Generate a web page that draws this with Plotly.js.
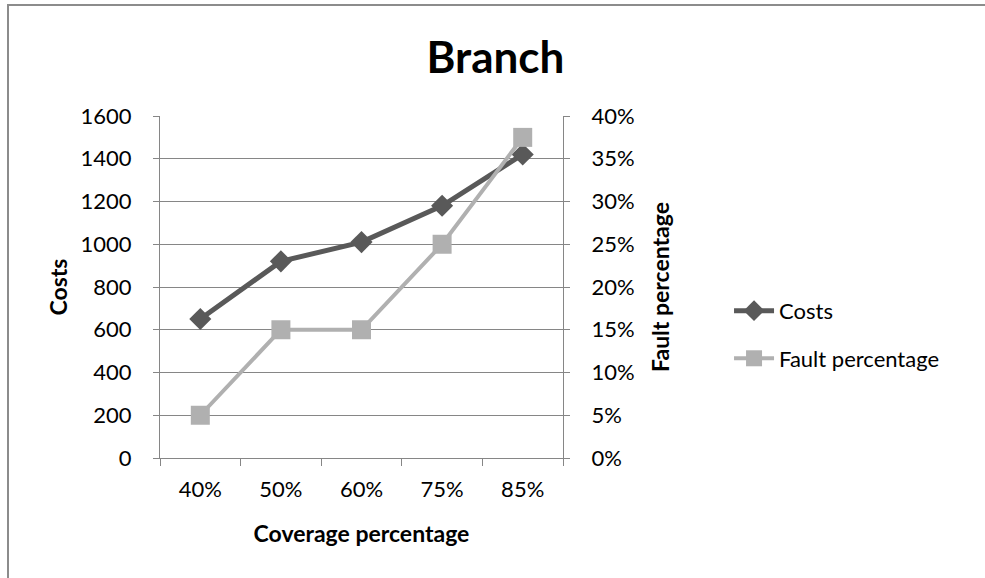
<!DOCTYPE html>
<html>
<head>
<meta charset="utf-8">
<script src="https://cdn.plot.ly/plotly-3.0.1.min.js"></script>
<style>
  html, body { margin: 0; padding: 0; background: #fff; }
  #wrap { position: relative; width: 985px; height: 578px; overflow: hidden; }
  #chart { position: absolute; left: 0; top: 0; width: 985px; height: 578px; }
  /* chart-area frame: only the top and left edges are visible */
  #frame { position: absolute; left: 7px; top: 4px; width: 990px; height: 590px;
           border-top: 2px solid #8c8c8c; border-left: 2px solid #8c8c8c;
           pointer-events: none; }
</style>
</head>
<body>
<div id="wrap">
  <div id="chart"></div>
  <div id="frame"></div>
</div>
<script>
// Coverage levels on the category axis
const coverage = ['40%', '50%', '60%', '75%', '85%'];
// Cost per coverage level (left axis)
const costs = [650, 920, 1010, 1180, 1420];
// Share of faults found (right axis)
const faultPct = [0.05, 0.15, 0.15, 0.25, 0.375];

const FONT = 'Lato, "Open Sans", sans-serif';
const AXIS_GRAY = '#868686';

const traces = [
  {
    name: 'Costs',
    x: coverage,
    y: costs,
    yaxis: 'y',
    type: 'scatter',
    mode: 'lines+markers',
    line: { color: '#595959', width: 5 },
    marker: { symbol: 'diamond', size: 17, color: '#595959' },
    legendgroup: 'a'
  },
  {
    name: 'Fault percentage',
    x: coverage,
    y: faultPct,
    yaxis: 'y2',
    type: 'scatter',
    mode: 'lines+markers',
    line: { color: '#b0b0b0', width: 4 },
    marker: { symbol: 'square', size: 19, color: '#b0b0b0' },
    legendgroup: 'b'
  }
];

const layout = {
  width: 985,
  height: 578,
  margin: { l: 160, r: 422, t: 116, b: 120 },
  paper_bgcolor: '#ffffff',
  plot_bgcolor: '#ffffff',
  font: { family: FONT, size: 22, color: '#000000' },
  title: {
    text: '<b>Branch</b>',
    font: { family: FONT, size: 44, color: '#000000' },
    x: 0.503,
    xanchor: 'center',
    y: 0.9,
    yanchor: 'middle'
  },
  xaxis: {
    type: 'category',
    range: [-0.5, 4.5],
    showgrid: false,
    showline: true,
    linecolor: AXIS_GRAY,
    linewidth: 1,
    ticks: 'outside',
    tickson: 'boundaries',
    ticklen: 7,
    tickcolor: AXIS_GRAY,
    tickfont: { family: FONT, size: 22 },
    ticklabelstandoff: 12,
    title: {
      text: '<b>Coverage percentage</b>',
      font: { family: FONT, size: 23 },
      standoff: 24
    },
    zeroline: false,
    fixedrange: true
  },
  yaxis: {
    range: [0, 1600],
    dtick: 200,
    showgrid: true,
    gridcolor: AXIS_GRAY,
    gridwidth: 1,
    showline: true,
    linecolor: AXIS_GRAY,
    linewidth: 1,
    ticks: 'outside',
    ticklen: 6,
    tickcolor: AXIS_GRAY,
    tickfont: { family: FONT, size: 22 },
    ticklabelstandoff: 17,
    title: {
      text: '<b>Costs</b>',
      font: { family: FONT, size: 23 },
      standoff: 6
    },
    zeroline: false,
    fixedrange: true
  },
  yaxis2: {
    overlaying: 'y',
    side: 'right',
    range: [0, 0.4],
    dtick: 0.05,
    tickformat: '.0%',
    showgrid: false,
    showline: true,
    linecolor: AXIS_GRAY,
    linewidth: 1,
    ticks: 'outside',
    ticklen: 6,
    tickcolor: AXIS_GRAY,
    tickfont: { family: FONT, size: 22 },
    ticklabelstandoff: 17,
    title: {
      text: '<b>Fault percentage</b>',
      font: { family: FONT, size: 23 },
      standoff: 19
    },
    zeroline: false,
    fixedrange: true
  },
  showlegend: true,
  legend: {
    x: 1.412,
    xanchor: 'left',
    y: 0.36,
    yanchor: 'middle',
    traceorder: 'grouped',
    tracegroupgap: 16,
    itemwidth: 40,
    font: { family: FONT, size: 22, color: '#000000' },
    bgcolor: 'rgba(0,0,0,0)'
  }
};

Plotly.newPlot('chart', traces, layout, { displayModeBar: false, staticPlot: true });
</script>
</body>
</html>
